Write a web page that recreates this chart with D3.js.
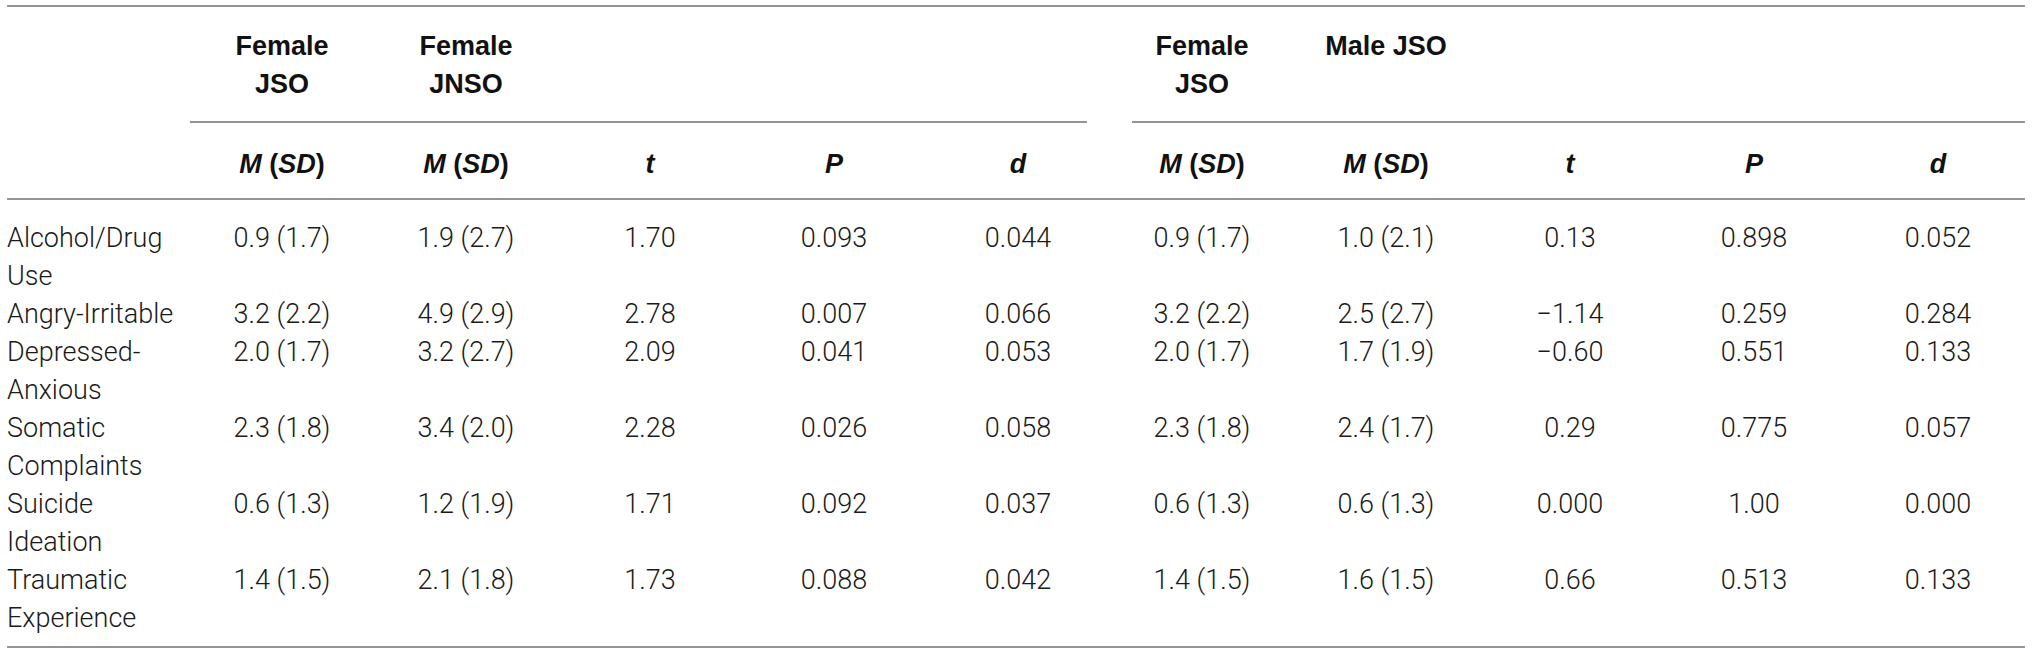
<!DOCTYPE html>
<html>
<head>
<meta charset="utf-8">
<script src="https://cdn.jsdelivr.net/npm/d3@7"></script>
<style>
  body { margin: 0; background: #fff; }
  svg { display: block; }
  .cell { font-family: Roboto, "Liberation Sans", sans-serif; font-weight: 300; font-size: 27px; fill: #1a1a1a; }
  .head { font-family: "Liberation Sans", Arial, sans-serif; font-weight: 700; font-size: 27px; fill: #111; }
  .rule { stroke: #949494; stroke-width: 2; }
</style>
</head>
<body>
<script>
'use strict';

// row labels, already broken the way the table wraps them
const categories = [
  ["Alcohol/Drug", "Use"],
  ["Angry-Irritable"],
  ["Depressed-", "Anxious"],
  ["Somatic", "Complaints"],
  ["Suicide", "Ideation"],
  ["Traumatic", "Experience"]
];

// comparison 1: female JSO vs female JNSO
const femaleJsoM = [0.9, 3.2, 2.0, 2.3, 0.6, 1.4];
const femaleJsoSD = [1.7, 2.2, 1.7, 1.8, 1.3, 1.5];
const femaleJnsoM = [1.9, 4.9, 3.2, 3.4, 1.2, 2.1];
const femaleJnsoSD = [2.7, 2.9, 2.7, 2.0, 1.9, 1.8];
const t1 = ["1.70", "2.78", "2.09", "2.28", "1.71", "1.73"];
const p1 = ["0.093", "0.007", "0.041", "0.026", "0.092", "0.088"];
const d1 = ["0.044", "0.066", "0.053", "0.058", "0.037", "0.042"];

// comparison 2: female JSO vs male JSO
const maleJsoM = [1.0, 2.5, 1.7, 2.4, 0.6, 1.6];
const maleJsoSD = [2.1, 2.7, 1.9, 1.7, 1.3, 1.5];
const t2 = ["0.13", "\u22121.14", "\u22120.60", "0.29", "0.000", "0.66"];
const p2 = ["0.898", "0.259", "0.551", "0.775", "1.00", "0.513"];
const d2 = ["0.052", "0.284", "0.133", "0.057", "0.000", "0.133"];

// header texts
const groupHeads = [["Female", "JSO"], ["Female", "JNSO"], null, null, null,
                    ["Female", "JSO"], ["Male JSO"], null, null, null];
const statHeads = ["MSD", "MSD", "t", "P", "d", "MSD", "MSD", "t", "P", "d"];

const W = 2032, H = 654;
const svg = d3.select("body").append("svg").attr("width", W).attr("height", H);

const fmt = d3.format(".1f");
const msd = (m, sd) => m.map((v, i) => fmt(v) + " (" + fmt(sd[i]) + ")");

// one array per table column
const columns = [
  msd(femaleJsoM, femaleJsoSD), msd(femaleJnsoM, femaleJnsoSD), t1, p1, d1,
  msd(femaleJsoM, femaleJsoSD), msd(maleJsoM, maleJsoSD), t2, p2, d2
];

// column centres and text lines
const x = d3.scalePoint().domain(d3.range(columns.length)).range([282, 1938]);
const step = x.step();
const lineY = d3.scaleLinear().domain([0, 10]).range([247, 627]);
const left = 7, right = 2025;

// horizontal rules
function rule(x1, x2, y) {
  svg.append("line").attr("class", "rule")
    .attr("x1", x1).attr("x2", x2).attr("y1", y).attr("y2", y);
}
rule(left, right, 6);
rule(x(0) - step / 2, x(4) + step / 2 - 23, 122);
rule(x(5) - step / 2 + 22, right, 122);
rule(left, right, 199);
rule(left, right, 647);

// group headers
groupHeads.forEach((lines, c) => {
  if (!lines) return;
  const t = svg.append("text").attr("class", "head")
    .attr("text-anchor", "middle").attr("x", x(c)).attr("y", 55);
  lines.forEach((s, i) => {
    t.append("tspan").attr("x", x(c)).attr("dy", i ? 38 : 0).text(s);
  });
});

// statistic headers
statHeads.forEach((h, c) => {
  const t = svg.append("text").attr("class", "head")
    .attr("text-anchor", "middle").attr("x", x(c)).attr("y", 173);
  if (h === "MSD") {
    t.append("tspan").style("font-style", "italic").text("M");
    t.append("tspan").text(" (");
    t.append("tspan").style("font-style", "italic").text("SD");
    t.append("tspan").text(")");
  } else {
    t.style("font-style", "italic").text(h);
  }
});

// body rows
let line = 0;
categories.forEach((lab, r) => {
  const t = svg.append("text").attr("class", "cell").attr("x", left).attr("y", lineY(line));
  lab.forEach((s, i) => {
    t.append("tspan").attr("x", left).attr("dy", i ? lineY(1) - lineY(0) : 0).text(s);
  });
  svg.selectAll(null)
    .data(columns.map(col => col[r]))
    .enter()
    .append("text")
      .attr("class", "cell")
      .attr("text-anchor", "middle")
      .attr("x", (d, c) => x(c))
      .attr("y", lineY(line))
      .text(d => d);
  line += lab.length;
});
</script>
</body>
</html>
